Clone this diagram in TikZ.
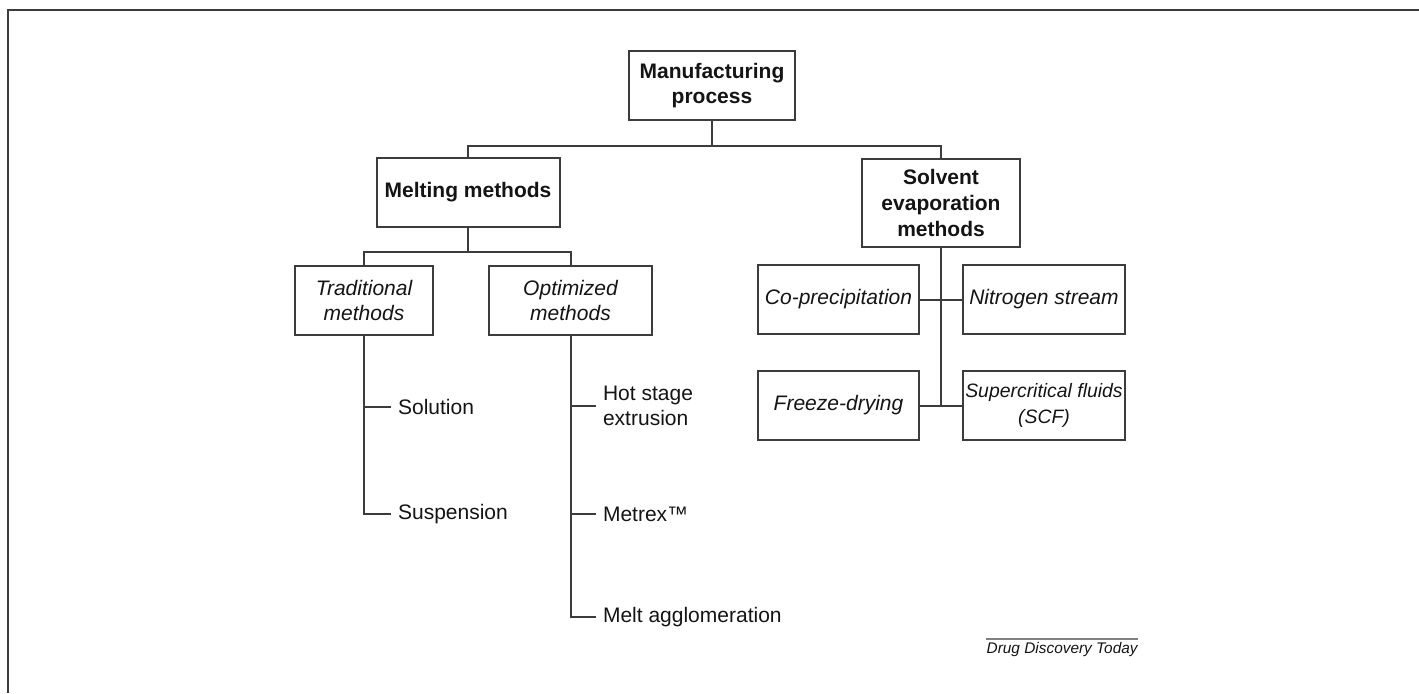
\documentclass[tikz,border=0pt]{standalone}
\usepackage{fontspec}
\setmainfont{Liberation Sans}
\usepackage{xcolor}
\usepackage{tikz}
\usetikzlibrary{positioning, calc}
\definecolor{lineg}{RGB}{60,60,60}
\definecolor{textg}{RGB}{20,20,20}

\tikzset{
    procbox/.style={
        draw=lineg,
        line width=1pt,
        inner sep=2pt,
        align=center,
        text=textg,
        font=\fontsize{10.5}{12.8}\selectfont
    },
    leaf/.style={
        anchor=west,
        align=left,
        text=textg,
        font=\fontsize{10.5}{12.8}\selectfont
    },
    link/.style={draw=lineg, line width=1pt}
}

\begin{document}
\begin{tikzpicture}[x=0.5pt,y=-0.5pt]
\useasboundingbox (0,0) rectangle (1419,693);
\draw[link] (8,693) -- (8,10) -- (1419,10);

% top level
\node[procbox, minimum width=83pt, minimum height=34.5pt] (manuf) at (712,85.5)
    {\bfseries Manufacturing\\\bfseries process};
\node[procbox, minimum width=91.5pt, minimum height=34.5pt] (melt) at (468,192.5)
    {\bfseries Melting methods};
\node[procbox, minimum width=79pt, minimum height=44pt] (solvent) at (941,203)
    {\bfseries Solvent\\\bfseries evaporation\\\bfseries methods};

% melting branch
\node[procbox, minimum width=69pt, minimum height=34.5pt] (trad) at (364,300.5)
    {\itshape Traditional\\\itshape methods};
\node[procbox, minimum width=81.5pt, minimum height=34.5pt] (optim) at (570.5,300.5)
    {\itshape Optimized\\\itshape methods};

\node[leaf] (sol) at (391,407) {Solution};
\node[leaf] (susp) at (391,514) {Suspension};
\node[leaf] (hot) at (596,406) {Hot stage\\extrusion};
\node[leaf] (metrex) at (596,514) {Metrex™};
\node[leaf] (magg) at (596,617) {Melt agglomeration};

% solvent branch
\node[procbox, minimum width=80.5pt, minimum height=34.5pt] (coprec) at (838.5,299.5)
    {\itshape Co-precipitation};
\node[procbox, minimum width=81pt, minimum height=34.5pt] (nitro) at (1044,299.5)
    {\itshape Nitrogen stream};
\node[procbox, minimum width=80.5pt, minimum height=34.5pt] (freeze) at (838.5,405.5)
    {\itshape Freeze-drying};
\node[procbox, minimum width=81pt, minimum height=34.5pt, inner xsep=0.5pt,
    font=\fontsize{9.7}{12.8}\selectfont] (scf) at (1044,405.5)
    {\itshape Supercritical fluids\\\itshape (SCF)};

\coordinate (mbar) at (712,145.5);
\coordinate (meltbar) at (468,252);

\draw[link] (manuf.south) -- (mbar);
\draw[link] (melt.north) |- (mbar) -| (solvent.north);
\draw[link] (melt.south) -- (meltbar);
\draw[link] (trad.north) |- (meltbar) -| (optim.north);

\draw[link] (trad.south) |- (susp.west);
\draw[link] (sol.west) -- (sol.west -| trad.south);
\draw[link] (optim.south) |- (magg.west);
\draw[link] (hot.west) -- (hot.west -| optim.south);
\draw[link] (metrex.west) -- (metrex.west -| optim.south);

\draw[link] (solvent.south) -- (solvent.south |- freeze.east);
\draw[link] (coprec.east) -- (nitro.west);
\draw[link] (freeze.east) -- (scf.west);

% source line
\node[anchor=north east, inner sep=0pt, text=textg,
    font=\fontsize{7.7}{9}\selectfont\itshape] (src) at (1138,642) {Drug Discovery Today};
\draw[gray, line width=0.8pt] ([yshift=1.5pt]src.north west) -- ([yshift=1.5pt]src.north east);
\end{tikzpicture}
\end{document}
